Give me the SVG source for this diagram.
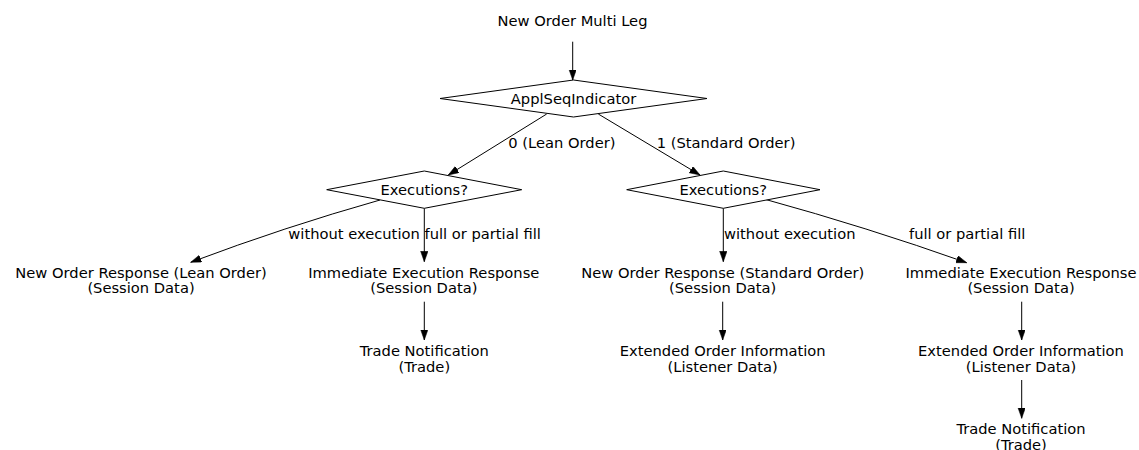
<svg xmlns="http://www.w3.org/2000/svg" width="1139" height="450" viewBox="0 0 1139 450">
<style>
text{font-family:"DejaVu Sans","Liberation Sans",sans-serif;font-size:14.7px;fill:#000;text-anchor:middle}
text.lbl{text-anchor:start}
.dia{fill:#fff;stroke:#000;stroke-width:1}
.edge{fill:none;stroke:#000;stroke-width:1;marker-end:url(#ah)}
</style>
<defs>
<marker id="ah" markerUnits="userSpaceOnUse" markerWidth="11" markerHeight="8" refX="10.5" refY="3.7" orient="auto">
<path d="M0,0 L10.5,3.7 L0,7.4 z" fill="#000" stroke="#000" stroke-width="0.5"/>
</marker>
</defs>
<rect width="1139" height="450" fill="#fff"/>
<g id="connectors">
<path class="edge" d="M572.7,41.7 L572.7,80"/>
<path class="edge" d="M546.7,114 L448.3,175"/>
<path class="edge" d="M598.3,114 L700,175"/>
<path class="edge" d="M380,200 Q284.5,227 190.7,262.3"/>
<path class="edge" d="M424.3,208.3 L424.3,261.7"/>
<path class="edge" d="M723.3,208.3 L723.3,261.7"/>
<path class="edge" d="M765,199.3 Q866,227 966.7,262.7"/>
<path class="edge" d="M424.3,301.7 L424.3,340"/>
<path class="edge" d="M722.7,301.7 L722.7,340"/>
<path class="edge" d="M1021.7,301.7 L1021.7,340"/>
<path class="edge" d="M1021.7,380 L1021.7,418.3"/>
<text class="lbl" x="508.3" y="147.5">0 (Lean Order)</text>
<text class="lbl" x="656.7" y="147.5">1 (Standard Order)</text>
<text class="lbl" x="288.3" y="238.5">without execution</text>
<text class="lbl" x="424.5" y="238.5">full or partial fill</text>
<text class="lbl" x="724" y="238.5">without execution</text>
<text class="lbl" x="909" y="238.5">full or partial fill</text>
</g>
<g id="n_start"><text x="572.5" y="26">New Order Multi Leg</text></g>
<g id="n_applseq">
<polygon class="dia" points="440,98.5 573.5,80 707,98.5 573.5,117"/>
<text x="573.5" y="103.5">ApplSeqIndicator</text>
</g>
<g id="n_exec_lean">
<polygon class="dia" points="326.7,189.7 424.3,171 521.7,189.7 424.3,208.3"/>
<text x="424.3" y="194.5">Executions?</text>
</g>
<g id="n_exec_std">
<polygon class="dia" points="626.7,189.7 723.3,171 820,189.7 723.3,208.3"/>
<text x="723.3" y="194.5">Executions?</text>
</g>
<g id="n_nor_lean"><text x="141" y="277.7">New Order Response (Lean Order)</text><text x="141" y="293.3">(Session Data)</text></g>
<g id="n_ier_lean"><text x="423.8" y="277.7">Immediate Execution Response</text><text x="423.8" y="293.3">(Session Data)</text></g>
<g id="n_tn_lean"><text x="424.3" y="356">Trade Notification</text><text x="424.3" y="371.7">(Trade)</text></g>
<g id="n_nor_std"><text x="722.7" y="277.7">New Order Response (Standard Order)</text><text x="722.7" y="293.3">(Session Data)</text></g>
<g id="n_eoi_std"><text x="722.7" y="356">Extended Order Information</text><text x="722.7" y="371.7">(Listener Data)</text></g>
<g id="n_ier_std"><text x="1021" y="277.7">Immediate Execution Response</text><text x="1021" y="293.3">(Session Data)</text></g>
<g id="n_eoi_std2"><text x="1021" y="356">Extended Order Information</text><text x="1021" y="371.7">(Listener Data)</text></g>
<g id="n_tn_std"><text x="1021" y="434.3">Trade Notification</text><text x="1021" y="450">(Trade)</text></g>
</svg>
